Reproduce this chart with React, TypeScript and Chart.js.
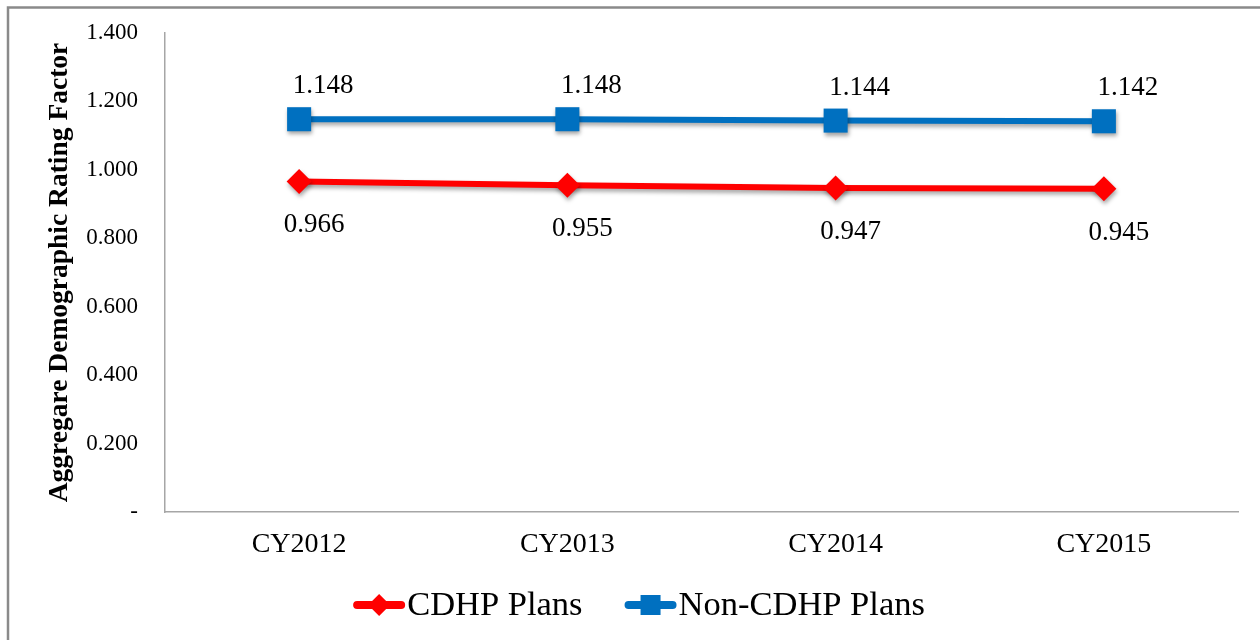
import React, { useEffect, useRef } from "react";
import { Chart, registerables } from "chart.js";

Chart.register(...registerables);

const categories = ["CY2012", "CY2013", "CY2014", "CY2015"];
const cdhpValues = [0.966, 0.955, 0.947, 0.945];
const nonCdhpValues = [1.148, 1.148, 1.144, 1.142];
const seriesNames = ["CDHP Plans", "Non-CDHP Plans"];
const yAxisTitle = "Aggregare Demographic Rating Factor";
const yMin = 0;
const yMax = 1.4;
const yStep = 0.2;

const SERIF = "'Liberation Serif', 'Times New Roman', serif";
const RED = "#FF0000";
const BLUE = "#0070C0";

const labelOffsets = [
  { dx: 15, dy: 51 },
  { dx: 24, dy: -26 },
];

const framePlugin = {
  id: "frame",
  beforeDraw(chart: any) {
    const ctx = chart.ctx;
    ctx.save();
    ctx.fillStyle = "#ffffff";
    ctx.fillRect(0, 0, chart.width, chart.height);
    ctx.strokeStyle = "#8a8a8a";
    ctx.lineWidth = 2.5;
    ctx.strokeRect(8, 7.5, chart.width + 20, chart.height + 20);
    ctx.restore();
  },
};

const shadowPlugin = {
  id: "markerShadow",
  beforeDatasetsDraw(chart: any) {
    const ctx = chart.ctx;
    ctx.save();
    ctx.shadowColor = "rgba(0,0,0,0.35)";
    ctx.shadowBlur = 4;
    ctx.shadowOffsetX = 1;
    ctx.shadowOffsetY = 3;
  },
  afterDatasetsDraw(chart: any) {
    chart.ctx.restore();
  },
};

const valueLabelPlugin = {
  id: "valueLabels",
  afterDraw(chart: any) {
    const ctx = chart.ctx;
    ctx.save();
    ctx.font = `27px ${SERIF}`;
    ctx.fillStyle = "#000000";
    ctx.textAlign = "center";
    ctx.textBaseline = "alphabetic";
    chart.data.datasets.forEach((ds: any, i: number) => {
      const meta = chart.getDatasetMeta(i);
      const off = labelOffsets[i];
      meta.data.forEach((pt: any, j: number) => {
        const v = ds.data[j] as number;
        ctx.fillText(v.toFixed(3), pt.x + off.dx, pt.y + off.dy);
      });
    });
    ctx.restore();
  },
};

const legendPlugin = {
  id: "lineLegend",
  afterDraw(chart: any) {
    const ctx = chart.ctx;
    ctx.save();
    const fontSize = 34.5;
    ctx.font = `${fontSize}px ${SERIF}`;
    const lineLen = 52;
    const gapAfterLine = 2;
    const gapBetween = 42;
    const items = chart.data.datasets.map((ds: any) => ({
      text: ds.label as string,
      color: ds.borderColor as string,
      style: ds.pointStyle as string,
      width: ctx.measureText(ds.label).width,
    }));
    const total =
      items.reduce((s: number, it: any) => s + lineLen + gapAfterLine + it.width, 0) +
      gapBetween * (items.length - 1);
    let x = 639 - total / 2;
    const y = 605;
    items.forEach((it: any) => {
      ctx.strokeStyle = it.color;
      ctx.lineWidth = 8;
      ctx.lineCap = "round";
      ctx.beginPath();
      ctx.moveTo(x + 4, y);
      ctx.lineTo(x + lineLen - 4, y);
      ctx.stroke();
      ctx.fillStyle = it.color;
      const cx = x + lineLen / 2;
      if (it.style === "rect") {
        ctx.fillRect(cx - 10, y - 10, 20, 20);
      } else {
        ctx.beginPath();
        ctx.moveTo(cx - 11, y);
        ctx.lineTo(cx, y - 11);
        ctx.lineTo(cx + 11, y);
        ctx.lineTo(cx, y + 11);
        ctx.closePath();
        ctx.fill();
      }
      ctx.fillStyle = "#000000";
      ctx.textAlign = "left";
      ctx.textBaseline = "middle";
      ctx.fillText(it.text, x + lineLen + gapAfterLine, y + 1);
      x += lineLen + gapAfterLine + it.width + gapBetween;
    });
    ctx.restore();
  },
};

export default function App() {
  const canvasRef = useRef<HTMLCanvasElement | null>(null);

  useEffect(() => {
    document.body.style.margin = "0";
    const canvas = canvasRef.current;
    if (!canvas) return;
    const chart = new Chart(canvas, {
      type: "line",
      data: {
        labels: categories,
        datasets: [
          {
            label: seriesNames[0],
            data: cdhpValues,
            borderColor: RED,
            backgroundColor: RED,
            borderWidth: 6,
            pointStyle: "rectRot",
            pointRadius: 12.5,
            pointBorderWidth: 0,
            pointBackgroundColor: RED,
            tension: 0,
          },
          {
            label: seriesNames[1],
            data: nonCdhpValues,
            borderColor: BLUE,
            backgroundColor: BLUE,
            borderWidth: 6,
            pointStyle: "rect",
            pointRadius: 17,
            pointBorderWidth: 0,
            pointBackgroundColor: BLUE,
            tension: 0,
          },
        ],
      },
      options: {
        animation: false,
        responsive: false,
        maintainAspectRatio: false,
        devicePixelRatio: 1,
        layout: { padding: { top: 33, right: 22, bottom: 0, left: 0 } },
        plugins: {
          legend: { display: false },
          tooltip: { enabled: false },
          title: { display: false },
        },
        scales: {
          x: {
            offset: true,
            grid: { display: false, drawTicks: false },
            border: { display: true, color: "#a6a6a6", width: 1.5 },
            ticks: {
              color: "#000000",
              font: { family: SERIF, size: 28 },
              padding: 16,
            },
            afterFit(scale: any) {
              scale.height = 128;
            },
          },
          y: {
            min: yMin,
            max: yMax,
            grid: {
              display: true,
              drawOnChartArea: false,
              drawTicks: true,
              tickLength: 10,
              tickColor: "rgba(0,0,0,0)",
            },
            border: { display: true, color: "#a6a6a6", width: 1.5 },
            ticks: {
              stepSize: yStep,
              color: "#000000",
              font: { family: SERIF, size: 23 },
              padding: 17,
              callback: (v: any) => (Number(v) === 0 ? "-" : Number(v).toFixed(3)),
            },
            title: {
              display: true,
              text: yAxisTitle,
              color: "#000000",
              font: { family: SERIF, size: 27.5, weight: "bold" },
              padding: { top: 43, bottom: 0 },
            },
            afterFit(scale: any) {
              scale.width = 165;
            },
          },
        },
      },
      plugins: [framePlugin, shadowPlugin, valueLabelPlugin, legendPlugin],
    });
    return () => chart.destroy();
  }, []);

  return (
    <div style={{ width: 1260, height: 640 }}>
      <canvas ref={canvasRef} width={1260} height={640} style={{ display: "block" }} />
    </div>
  );
}
